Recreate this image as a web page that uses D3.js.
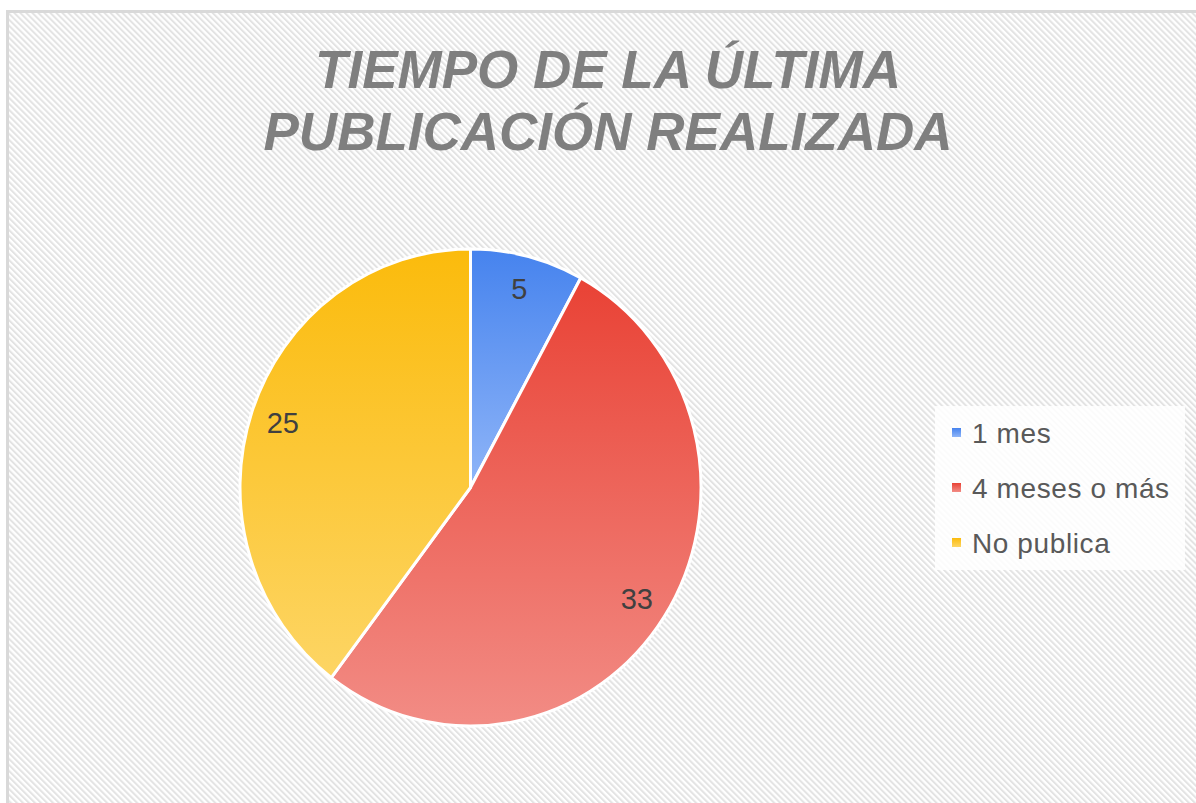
<!DOCTYPE html>
<html><head><meta charset="utf-8">
<script src="https://cdn.jsdelivr.net/npm/d3@7"></script>
<style>html,body{margin:0;padding:0;background:#fff;}svg{display:block;}</style>
</head><body>
<script>
const categories = ["1 mes", "4 meses o más", "No publica"];
const values = [5, 33, 25];
const titleLines = ["TIEMPO DE LA ÚLTIMA", "PUBLICACIÓN REALIZADA"];
const colorsTop = ["#4683ee", "#e94235", "#fbbb0c"];
const colorsBottom = ["#8fb5f8", "#f28c85", "#fdd564"];

const W = 1196, H = 803;
const svg = d3.select("body").append("svg").attr("width", W).attr("height", H);
const defs = svg.append("defs");

const pat = defs.append("pattern").attr("id", "stripes").attr("patternUnits", "userSpaceOnUse")
  .attr("width", 4.25).attr("height", 4.25).attr("patternTransform", "rotate(-45)");
pat.append("rect").attr("width", 4.25).attr("height", 4.25).attr("fill", "#ffffff");
pat.append("rect").attr("width", 2).attr("height", 4.25).attr("fill", "#e3e3e3");

categories.forEach((c, i) => {
  const g = defs.append("linearGradient").attr("id", "g" + i)
    .attr("x1", 0).attr("y1", 0).attr("x2", 0).attr("y2", 1);
  g.append("stop").attr("offset", "0%").attr("stop-color", colorsTop[i]);
  g.append("stop").attr("offset", "100%").attr("stop-color", colorsBottom[i]);
});

// frame
svg.append("rect").attr("x", 7.5).attr("y", 11.5).attr("width", W).attr("height", H)
  .attr("fill", "url(#stripes)").attr("stroke", "#d9d9d9").attr("stroke-width", 3);

// title
svg.append("g").selectAll("text").data(titleLines).join("text")
  .attr("x", 608).attr("y", (d, i) => 88 + i * 62)
  .attr("text-anchor", "middle")
  .attr("font-family", "Liberation Sans, Arial, sans-serif")
  .attr("font-weight", "bold").attr("font-style", "italic")
  .attr("font-size", 53).attr("fill", "#7f7f7f")
  .text(d => d);

// pie (slightly stretched vertically like the reference)
const cx = 470.5, cy = 487.5, R = 230.5, sy = 1.035;
const pie = d3.pie().sort(null).value(d => d)(values);
const arc = d3.arc().innerRadius(0).outerRadius(R);
const labelArc = d3.arc().innerRadius(198).outerRadius(198);
const gp = svg.append("g").attr("transform", `translate(${cx},${cy}) scale(1,${sy})`);
gp.selectAll("path").data(pie).join("path")
  .attr("d", arc)
  .attr("fill", (d, i) => `url(#g${i})`)
  .attr("stroke", "#ffffff").attr("stroke-width", 3).attr("stroke-linejoin", "round");
svg.append("g").selectAll("text").data(pie).join("text")
  .attr("transform", d => { const c = labelArc.centroid(d); return `translate(${cx + c[0]},${cy + c[1] * sy})`; })
  .attr("text-anchor", "middle").attr("dy", "0.36em")
  .attr("font-family", "Liberation Sans, Arial, sans-serif")
  .attr("font-size", 29).attr("fill", "#404040")
  .text(d => d.data);

// legend
const lg = svg.append("g");
lg.append("rect").attr("x", 935).attr("y", 406).attr("width", 250).attr("height", 164)
  .attr("fill", "#ffffff").attr("opacity", 0.85);
const items = lg.selectAll("g.item").data(categories).join("g").attr("class", "item")
  .attr("transform", (d, i) => `translate(952, ${443 + i * 55})`);
items.append("rect").attr("x", 0).attr("y", -15).attr("width", 9).attr("height", 9)
  .attr("fill", (d, i) => `url(#g${i})`);
items.append("text").attr("x", 20).attr("y", 0)
  .attr("font-family", "Liberation Sans, Arial, sans-serif")
  .attr("font-size", 28).attr("letter-spacing", 0.6).attr("fill", "#595959")
  .text(d => d);
</script>
</body></html>
